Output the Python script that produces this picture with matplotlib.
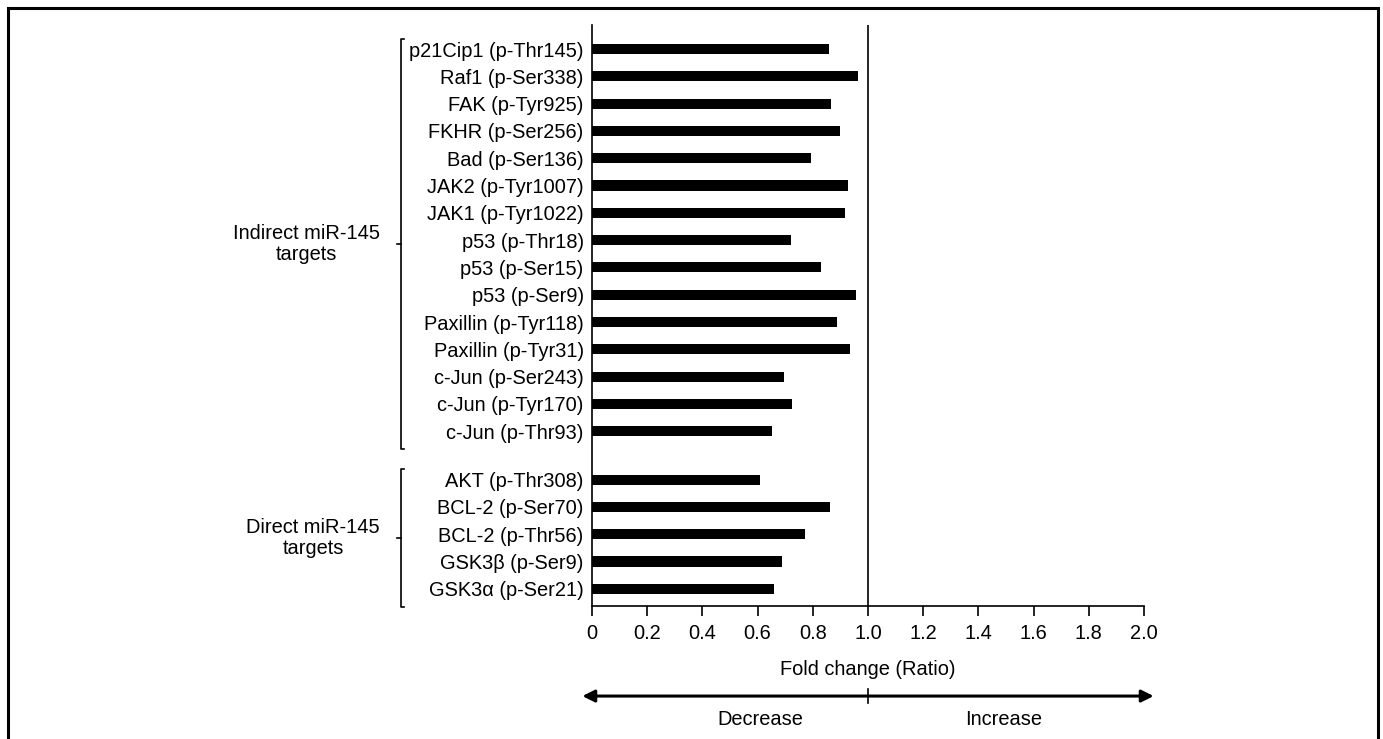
import matplotlib
matplotlib.use("Agg")
import matplotlib.pyplot as plt

# data
indirect_labels = [
    "p21Cip1 (p-Thr145)", "Raf1 (p-Ser338)", "FAK (p-Tyr925)", "FKHR (p-Ser256)",
    "Bad (p-Ser136)", "JAK2 (p-Tyr1007)", "JAK1 (p-Tyr1022)", "p53 (p-Thr18)",
    "p53 (p-Ser15)", "p53 (p-Ser9)", "Paxillin (p-Tyr118)", "Paxillin (p-Tyr31)",
    "c-Jun (p-Ser243)", "c-Jun (p-Tyr170)", "c-Jun (p-Thr93)",
]
indirect_values = [0.857, 0.963, 0.867, 0.898, 0.795, 0.928, 0.916, 0.720,
                   0.831, 0.957, 0.888, 0.933, 0.695, 0.726, 0.653]

direct_labels = [
    "AKT (p-Thr308)", "BCL-2 (p-Ser70)", "BCL-2 (p-Thr56)",
    "GSK3\u03b2 (p-Ser9)", "GSK3\u03b1 (p-Ser21)",
]
direct_values = [0.610, 0.863, 0.771, 0.689, 0.659]

group_names = ["Indirect miR-145\ntargets", "Direct miR-145\ntargets"]
x_ticks = [0, 0.2, 0.4, 0.6, 0.8, 1.0, 1.2, 1.4, 1.6, 1.8, 2.0]
x_tick_labels = ["0", "0.2", "0.4", "0.6", "0.8", "1.0", "1.2", "1.4", "1.6", "1.8", "2.0"]

plt.rcParams['font.family'] = ['Liberation Sans', 'DejaVu Sans']
FS = 14.4

gap = 1.77
y_ind = list(range(len(indirect_labels)))
y_dir = [len(indirect_labels) - 1 + gap + i for i in range(len(direct_labels))]

fig = plt.figure(figsize=(13.83, 7.39), dpi=100)
ax = fig.add_axes([592 / 1383, 1 - 606 / 739, 552 / 1383, 581 / 739])

ax.barh(y_ind + y_dir, indirect_values + direct_values, height=0.37, color="black")
ax.axvline(1.0, color="black", lw=1.2)

ax.set_xlim(0, 2.0)
ax.set_ylim(y_dir[-1] + 0.63, -0.88)
ax.set_yticks(y_ind + y_dir)
ax.set_yticklabels(indirect_labels + direct_labels, fontsize=FS)
ax.tick_params(axis="y", length=0, pad=6)
ax.set_xticks(x_ticks)
ax.set_xticklabels(x_tick_labels, fontsize=FS)
ax.tick_params(axis="x", length=7, width=1.2, pad=6, direction="out")
for s in ["top", "right"]:
    ax.spines[s].set_visible(False)
for s in ["left", "bottom"]:
    ax.spines[s].set_linewidth(1.2)

ax.set_xlabel("Fold change (Ratio)", fontsize=FS, labelpad=12)

# group brackets
tr = ax.get_yaxis_transform()
bx = -0.346
for name, ys in zip(group_names, [y_ind, y_dir]):
    top, bot = ys[0] - 0.38, ys[-1] + 0.65
    mid = (top + bot) / 2
    ax.plot([bx + 0.006, bx, bx, bx + 0.006], [top, top, bot, bot],
            color="black", lw=1.2, transform=tr, clip_on=False)
    ax.plot([bx, bx - 0.008], [mid, mid], color="black", lw=1.2,
            transform=tr, clip_on=False)
    ax.text(-0.384, mid, name, transform=tr, ha="right", va="center",
            multialignment="center", fontsize=FS, linespacing=1.1)

# decrease / increase arrow
xt = ax.get_xaxis_transform()
ay = -0.155
ax.annotate("", xy=(-0.035, ay), xytext=(2.035, ay), xycoords=xt, textcoords=xt,
            arrowprops=dict(arrowstyle="<|-|>", color="black", lw=2.2,
                            mutation_scale=18, shrinkA=0, shrinkB=0),
            annotation_clip=False)
ax.plot([1.0, 1.0], [ay - 0.012, ay + 0.012], color="black", lw=1.2,
        transform=xt, clip_on=False)
ax.text(0.61, -0.195, "Decrease", transform=xt, ha="center", va="center", fontsize=FS)
ax.text(1.49, -0.195, "Increase", transform=xt, ha="center", va="center", fontsize=FS)

# frame around the whole figure (bottom edge runs off the image)
fig.patches.append(plt.Rectangle((7.5 / 1383, -0.02), 1370 / 1383, 1 - 7.5 / 739 + 0.02,
                                 transform=fig.transFigure, fill=False,
                                 edgecolor="black", lw=2.2))

fig.savefig("out.png", dpi=100)
